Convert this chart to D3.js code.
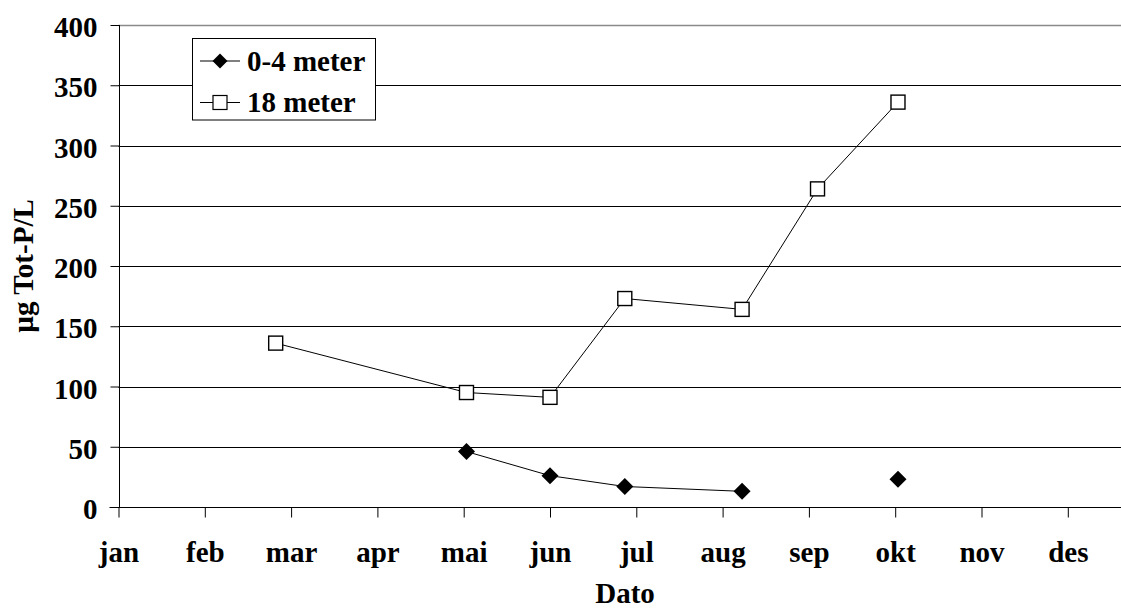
<!DOCTYPE html>
<html>
<head>
<meta charset="utf-8">
<script src="https://cdn.jsdelivr.net/npm/d3@7"></script>
<style>
  html, body { margin: 0; padding: 0; background: #fff; }
  svg { display: block; }
  text { font-family: "Liberation Serif", "Times New Roman", serif; font-weight: bold; font-size: 29px; fill: #000; }
</style>
</head>
<body>
<svg id="chart" width="1121" height="610"></svg>
<script>
// ---- data ----
const monthLabels = ["jan","feb","mar","apr","mai","jun","jul","aug","sep","okt","nov","des"];
const sampleDates = ["02-24","05-02","06-01","06-27","08-08","09-04","10-02"];
const shallow = [null, 46, 26, 17, 13, null, 23];      // 0-4 meter
const deep = [136, 95, 91, 173, 164, 264, 336];         // 18 meter
const yTicks = [0, 50, 100, 150, 200, 250, 300, 350, 400];
const seriesNames = ["0-4 meter", "18 meter"];

(function () {
// ---- helpers ----
const daysInMonth = [31,28,31,30,31,30,31,31,30,31,30,31];
function monthPos(s) {
  const [m, d] = s.split("-").map(Number);
  return (m - 1) + (d - 1) / daysInMonth[m - 1];
}

const svg = d3.select("#chart");
const W = 1121;
const plotLeft = 118.5, monthW = 86.3, plotTop = 25, plotBottom = 507;
const FONT = '"Liberation Serif", "Times New Roman", serif';

const x = d3.scaleLinear().domain([0, 12]).range([plotLeft, plotLeft + monthW * 12]);
const y = d3.scaleLinear().domain([0, 400]).range([plotBottom, plotTop]);

// gridlines
svg.append("g").selectAll("line")
  .data(yTicks.filter(v => v > 0))
  .join("line")
  .attr("x1", x(0)).attr("x2", W)
  .attr("y1", d => Math.round(y(d)) + 0.5).attr("y2", d => Math.round(y(d)) + 0.5)
  .attr("stroke", d => d === 400 ? "#8a8a8a" : "#000")
  .attr("stroke-width", d => d === 400 ? 1.5 : 1);

// y axis
const yAxis = svg.append("g")
  .attr("transform", `translate(${Math.round(x(0)) + 0.5},0)`)
  .call(d3.axisLeft(y).tickValues(yTicks).tickSize(9).tickPadding(13).tickFormat(d3.format("d")))
  .attr("font-family", FONT).attr("font-size", 29).attr("font-weight", "bold");
yAxis.select(".domain").attr("stroke", "#000").attr("d", `M0,${plotTop}V${plotBottom}`);
yAxis.selectAll(".tick line").attr("stroke", "#000");
yAxis.selectAll(".tick text")
  .attr("dy", "0.4em")
  .style("font-family", FONT).style("font-size", "29px").style("font-weight", "bold");

// x axis
const xAxis = svg.append("g")
  .attr("transform", `translate(0,${plotBottom + 0.5})`)
  .call(d3.axisBottom(x).tickValues(d3.range(12)).tickSize(10).tickPadding(24)
        .tickFormat(i => monthLabels[i]))
  .attr("font-family", FONT).attr("font-size", 29).attr("font-weight", "bold");
xAxis.select(".domain").attr("stroke", "#000").attr("d", `M${plotLeft - 9},0H${W}`);
xAxis.selectAll(".tick line").attr("stroke", "#000");
xAxis.selectAll(".tick text")
  .attr("dy", "0.71em")
  .style("font-family", FONT).style("font-size", "29px").style("font-weight", "bold");

// axis titles
svg.append("text")
  .attr("x", 625).attr("y", 603)
  .attr("text-anchor", "middle")
  .text("Dato");
svg.append("text")
  .attr("transform", `translate(33,${(plotTop + plotBottom) / 2}) rotate(-90)`)
  .attr("text-anchor", "middle")
  .text("µg Tot-P/L");

// series
const pts = (vals) => sampleDates.map((d, i) => ({ x: monthPos(d), v: vals[i] }));
const line = d3.line().defined(d => d.v != null).x(d => x(d.x)).y(d => y(d.v));

const deepPts = pts(deep), shallowPts = pts(shallow);

svg.append("path").datum(deepPts).attr("d", line)
  .attr("fill", "none").attr("stroke", "#000").attr("stroke-width", 1);
svg.append("path").datum(shallowPts).attr("d", line)
  .attr("fill", "none").attr("stroke", "#000").attr("stroke-width", 1);

const diamond = (cx, cy, r) => `M${cx},${cy - r}L${cx + r},${cy}L${cx},${cy + r}L${cx - r},${cy}Z`;

svg.append("g").selectAll("path")
  .data(shallowPts.filter(d => d.v != null))
  .join("path")
  .attr("d", d => diamond(x(d.x), y(d.v), 8.5))
  .attr("fill", "#000");

svg.append("g").selectAll("rect")
  .data(deepPts.filter(d => d.v != null))
  .join("rect")
  .attr("x", d => x(d.x) - 7).attr("y", d => y(d.v) - 7)
  .attr("width", 14).attr("height", 14)
  .attr("fill", "#fff").attr("stroke", "#000").attr("stroke-width", 1.4);

// legend
const lg = svg.append("g");
lg.append("rect").attr("x", 192.5).attr("y", 38.5).attr("width", 183).attr("height", 81.5)
  .attr("fill", "#fff").attr("stroke", "#000").attr("stroke-width", 1);
const rows = [61, 102.5];
seriesNames.forEach((name, i) => {
  const cy = rows[i];
  lg.append("line").attr("x1", 200).attr("x2", 240).attr("y1", cy).attr("y2", cy)
    .attr("stroke", "#000").attr("stroke-width", 1);
  if (i === 0) {
    lg.append("path").attr("d", diamond(220, cy, 7.5)).attr("fill", "#000");
  } else {
    lg.append("rect").attr("x", 213).attr("y", cy - 7).attr("width", 14).attr("height", 14)
      .attr("fill", "#fff").attr("stroke", "#000").attr("stroke-width", 1.2);
  }
  lg.append("text").attr("x", 247).attr("y", cy + 9.7).text(name);
});
})();
</script>
</body>
</html>
